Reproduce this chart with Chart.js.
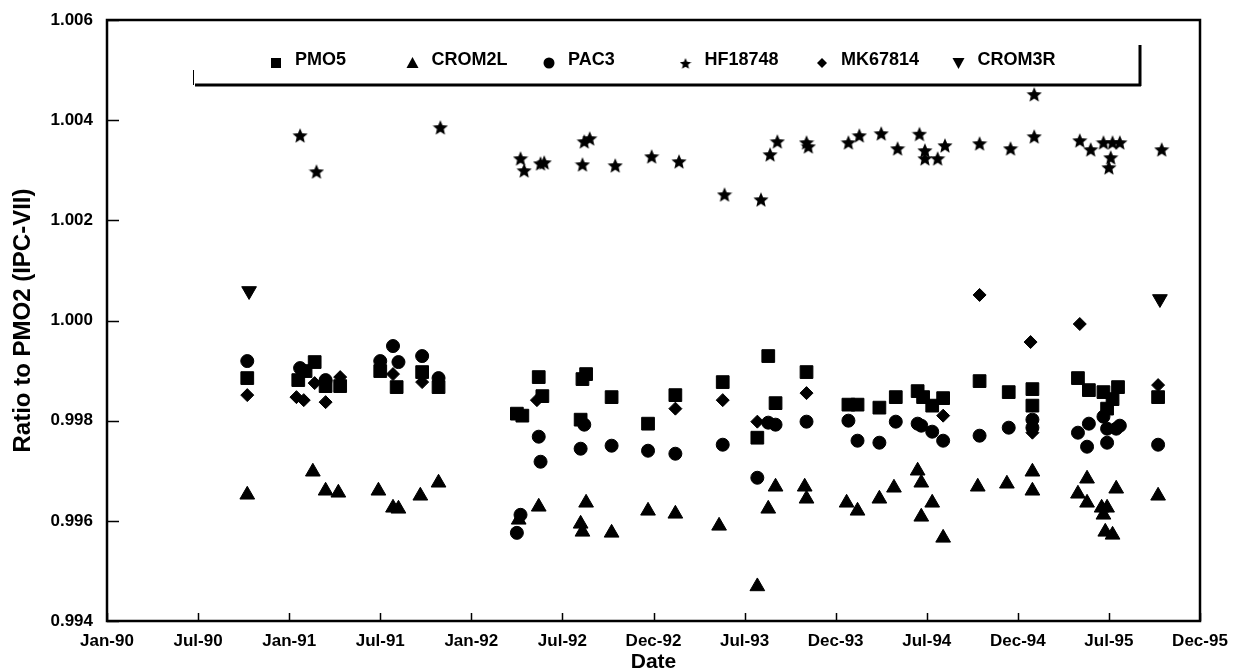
<!DOCTYPE html>
<html>
<head>
<meta charset="utf-8">
<title>Ratio to PMO2 (IPC-VII)</title>
<script src="https://cdn.jsdelivr.net/npm/chart.js@4.4.1/dist/chart.umd.min.js"></script>
<style>
  html, body { margin: 0; padding: 0; background: #fff; }
  #wrap { width: 1234px; height: 671px; }
</style>
</head>
<body>
<div id="wrap"><canvas id="chart" width="1234" height="671"></canvas></div>
<script>
// x values are decimal years, y values the ratio to PMO2
const tickLabels = ['Jan-90', 'Jul-90', 'Jan-91', 'Jul-91', 'Jan-92', 'Jul-92', 'Dec-92',
    'Jul-93', 'Dec-93', 'Jul-94', 'Dec-94', 'Jul-95', 'Dec-95'];

const pmo5 = [
    [1990.77, 0.99885], [1991.05, 0.99881], [1991.09, 0.99899], [1991.14, 0.99917], [1991.20, 0.99869],
    [1991.28, 0.99869], [1991.50, 0.99899], [1991.59, 0.99867], [1991.73, 0.99897], [1991.82, 0.99867],
    [1992.25, 0.99814], [1992.28, 0.99810], [1992.37, 0.99887], [1992.39, 0.99849], [1992.60, 0.99802],
    [1992.61, 0.99883], [1992.63, 0.99893], [1992.77, 0.99847], [1992.97, 0.99794], [1993.12, 0.99851],
    [1993.38, 0.99877], [1993.57, 0.99766], [1993.63, 0.99929], [1993.67, 0.99835], [1993.84, 0.99897],
    [1994.07, 0.99832], [1994.12, 0.99832], [1994.24, 0.99826], [1994.33, 0.99847], [1994.45, 0.99859],
    [1994.48, 0.99847], [1994.53, 0.99830], [1994.59, 0.99845], [1994.79, 0.99879], [1994.95, 0.99857],
    [1995.08, 0.99863], [1995.08, 0.99830], [1995.33, 0.99885], [1995.39, 0.99861], [1995.47, 0.99857],
    [1995.55, 0.99867], [1995.52, 0.99843], [1995.49, 0.99824], [1995.77, 0.99847]
];

const crom2l = [
    [1990.77, 0.99652], [1991.13, 0.99698], [1991.20, 0.99660], [1991.27, 0.99656], [1991.49, 0.99660],
    [1991.57, 0.99626], [1991.60, 0.99624], [1991.72, 0.99650], [1991.82, 0.99676], [1992.26, 0.99602],
    [1992.37, 0.99628], [1992.63, 0.99636], [1992.60, 0.99594], [1992.61, 0.99578], [1992.77, 0.99576],
    [1992.97, 0.99620], [1993.12, 0.99614], [1993.36, 0.99590], [1993.57, 0.99469], [1993.63, 0.99624],
    [1993.67, 0.99668], [1993.83, 0.99668], [1993.84, 0.99644], [1994.06, 0.99636], [1994.12, 0.99620],
    [1994.24, 0.99644], [1994.32, 0.99666], [1994.45, 0.99700], [1994.47, 0.99676], [1994.53, 0.99636],
    [1994.47, 0.99608], [1994.59, 0.99566], [1994.78, 0.99668], [1994.94, 0.99674], [1995.08, 0.99698],
    [1995.08, 0.99660], [1995.33, 0.99654], [1995.38, 0.99684], [1995.38, 0.99636], [1995.46, 0.99626],
    [1995.49, 0.99626], [1995.47, 0.99612], [1995.48, 0.99578], [1995.52, 0.99572], [1995.54, 0.99664],
    [1995.77, 0.99650]
];

const pac3 = [
    [1990.77, 0.99919], [1991.06, 0.99905], [1991.20, 0.99881], [1991.50, 0.99919], [1991.57, 0.99949],
    [1991.60, 0.99917], [1991.73, 0.99929], [1991.82, 0.99885], [1992.27, 0.99612], [1992.25, 0.99576],
    [1992.37, 0.99768], [1992.38, 0.99718], [1992.62, 0.99792], [1992.60, 0.99744], [1992.77, 0.99750],
    [1992.97, 0.99740], [1993.12, 0.99734], [1993.38, 0.99752], [1993.63, 0.99796], [1993.67, 0.99792],
    [1993.57, 0.99686], [1993.84, 0.99798], [1994.07, 0.99800], [1994.12, 0.99760], [1994.24, 0.99756],
    [1994.33, 0.99798], [1994.45, 0.99794], [1994.47, 0.99790], [1994.53, 0.99778], [1994.59, 0.99760],
    [1994.79, 0.99770], [1994.95, 0.99786], [1995.08, 0.99802], [1995.08, 0.99786], [1995.33, 0.99776],
    [1995.39, 0.99794], [1995.38, 0.99748], [1995.47, 0.99808], [1995.49, 0.99784], [1995.49, 0.99756],
    [1995.54, 0.99784], [1995.56, 0.99790], [1995.77, 0.99752]
];

const hf18748 = [
    [1991.06, 1.00370], [1991.15, 1.00298], [1991.83, 1.00386], [1992.27, 1.00324], [1992.29, 1.00300],
    [1992.38, 1.00314], [1992.40, 1.00316], [1992.62, 1.00358], [1992.65, 1.00364], [1992.61, 1.00312],
    [1992.79, 1.00310], [1992.99, 1.00328], [1993.14, 1.00318], [1993.39, 1.00252], [1993.59, 1.00242],
    [1993.64, 1.00332], [1993.68, 1.00358], [1993.84, 1.00356], [1993.85, 1.00348], [1994.07, 1.00356],
    [1994.13, 1.00370], [1994.25, 1.00374], [1994.34, 1.00344], [1994.46, 1.00373], [1994.49, 1.00340],
    [1994.49, 1.00324], [1994.56, 1.00324], [1994.60, 1.00350], [1994.79, 1.00354], [1994.96, 1.00344],
    [1995.09, 1.00452], [1995.09, 1.00368], [1995.34, 1.00360], [1995.40, 1.00342], [1995.47, 1.00356],
    [1995.52, 1.00356], [1995.56, 1.00356], [1995.51, 1.00326], [1995.50, 1.00306], [1995.79, 1.00342]
];

const mk67814 = [
    [1990.77, 0.99851], [1991.04, 0.99847], [1991.08, 0.99841], [1991.14, 0.99875], [1991.20, 0.99837],
    [1991.28, 0.99887], [1991.57, 0.99893], [1991.73, 0.99877], [1992.36, 0.99841], [1993.12, 0.99824],
    [1993.38, 0.99841], [1993.57, 0.99798], [1993.84, 0.99855], [1994.59, 0.99810], [1994.79, 1.00051],
    [1995.07, 0.99957], [1995.08, 0.99776], [1995.34, 0.99993], [1995.77, 0.99871]
];

const crom3r = [
    [1990.78, 1.00059], [1995.78, 1.00043]
];

const FONT = "'Liberation Sans', Arial, sans-serif";

function makeStar(size) {
    const c = document.createElement('canvas');
    c.width = size;
    c.height = size;
    const g = c.getContext('2d');
    const R = size / 2, r = R * 0.45;
    g.beginPath();
    for (let i = 0; i < 10; i++) {
        const rad = i % 2 === 0 ? R : r;
        const a = -Math.PI / 2 + i * Math.PI / 5;
        g.lineTo(R + rad * Math.cos(a), R + 1 + rad * Math.sin(a));
    }
    g.closePath();
    g.fillStyle = '#000';
    g.fill();
    return c;
}

const bigStar = makeStar(16);
const smallStar = makeStar(12);

function toPoints(list) {
    return list.map(p => ({ x: p[0], y: p[1] }));
}

function series(label, list, style, radius, rotation) {
    return {
        label: label,
        data: toPoints(list),
        showLine: false,
        pointStyle: style,
        pointRadius: radius,
        pointRotation: rotation || 0,
        backgroundColor: '#000',
        borderColor: '#000',
        borderWidth: 1
    };
}

// inward tick marks, plot frame and the boxed legend across the top
const framePlugin = {
    id: 'frame',
    afterDatasetsDraw(chart) {
        const ctx = chart.ctx;
        const a = chart.chartArea;
        const xs = chart.scales.x, ys = chart.scales.y;
        ctx.save();
        ctx.strokeStyle = '#000';
        ctx.lineWidth = 1.5;
        ctx.beginPath();
        ys.ticks.forEach(t => {
            const py = Math.round(ys.getPixelForValue(t.value)) + 0.5;
            ctx.moveTo(a.left, py);
            ctx.lineTo(a.left + 12, py);
        });
        xs.ticks.forEach(t => {
            const px = Math.round(xs.getPixelForValue(t.value)) + 0.5;
            ctx.moveTo(px, a.bottom);
            ctx.lineTo(px, a.bottom - 8);
        });
        ctx.stroke();

        ctx.lineWidth = 2.5;
        ctx.strokeRect(a.left, a.top, a.right - a.left, a.bottom - a.top);

        // legend box
        ctx.fillStyle = '#fff';
        ctx.fillRect(196, a.top + 2, 944, 84 - a.top - 2);
        ctx.lineWidth = 3;
        ctx.beginPath();
        ctx.moveTo(195, 85);
        ctx.lineTo(1141, 85);
        ctx.moveTo(1140, 45);
        ctx.lineTo(1140, 86);
        ctx.stroke();
        ctx.lineWidth = 1;
        ctx.beginPath();
        ctx.moveTo(193.5, 70);
        ctx.lineTo(193.5, 85);
        ctx.stroke();

        ctx.fillStyle = '#000';
        ctx.font = 'bold 18px ' + FONT;
        ctx.textBaseline = 'middle';
        ctx.textAlign = 'left';
        chart.data.datasets.forEach((ds, i) => {
            const mx = 276 + i * 136.5, my = 63;
            drawMarker(ctx, ds.pointStyle, ds.pointRotation, mx, my);
            ctx.fillText(ds.label, mx + 19, 60);
        });
        ctx.restore();
    }
};

function drawMarker(ctx, style, rotation, x, y) {
    ctx.beginPath();
    if (style === 'rect') {
        ctx.rect(x - 5, y - 5, 10, 10);
    } else if (style === 'circle') {
        ctx.arc(x, y, 5.5, 0, Math.PI * 2);
    } else if (style === 'rectRot') {
        ctx.moveTo(x, y - 5);
        ctx.lineTo(x + 5, y);
        ctx.lineTo(x, y + 5);
        ctx.lineTo(x - 5, y);
    } else if (style === 'triangle') {
        const d = rotation ? -1 : 1;
        ctx.moveTo(x, y - 6 * d);
        ctx.lineTo(x + 6, y + 5 * d);
        ctx.lineTo(x - 6, y + 5 * d);
    } else {
        ctx.drawImage(smallStar, x - 6, y - 6);
        return;
    }
    ctx.closePath();
    ctx.fill();
}

const ctx = document.getElementById('chart').getContext('2d');

new Chart(ctx, {
    type: 'scatter',
    data: {
        datasets: [
            series('PMO5', pmo5, 'rect', 9),
            series('CROM2L', crom2l, 'triangle', 8.5),
            series('PAC3', pac3, 'circle', 6.5),
            series('HF18748', hf18748, bigStar, 8),
            series('MK67814', mk67814, 'rectRot', 6.5),
            series('CROM3R', crom3r, 'triangle', 8.5, 180)
        ]
    },
    options: {
        responsive: false,
        animation: false,
        devicePixelRatio: 1,
        layout: {
            padding: { top: 20, right: 34, left: 0, bottom: 0 }
        },
        plugins: {
            legend: { display: false },
            tooltip: { enabled: false }
        },
        scales: {
            x: {
                type: 'linear',
                min: 1990,
                max: 1996,
                grid: { display: false, drawTicks: false },
                border: { display: false },
                afterFit: s => {
                    s.height = 50;
                    s.paddingLeft = 0;
                    s.paddingRight = 0;
                },
                ticks: {
                    stepSize: 0.5,
                    autoSkip: false,
                    maxRotation: 0,
                    padding: 10,
                    color: '#000',
                    font: { family: FONT, size: 17, weight: 'bold' },
                    callback: (v, i) => tickLabels[i]
                },
                title: {
                    display: true,
                    text: 'Date',
                    color: '#000',
                    padding: { top: 0, bottom: -4 },
                    font: { family: FONT, size: 21, weight: 'bold' }
                }
            },
            y: {
                min: 0.994,
                max: 1.006,
                grid: { display: false, drawTicks: false },
                border: { display: false },
                afterFit: s => {
                    s.width = 107;
                    s.paddingTop = 0;
                    s.paddingBottom = 0;
                },
                ticks: {
                    stepSize: 0.002,
                    padding: 14,
                    color: '#000',
                    font: { family: FONT, size: 17, weight: 'bold' },
                    callback: v => v.toFixed(3)
                },
                title: {
                    display: true,
                    text: 'Ratio to PMO2 (IPC-VII)',
                    color: '#000',
                    padding: { top: 9, bottom: 0 },
                    font: { family: FONT, size: 24, weight: 'bold' }
                }
            }
        }
    },
    plugins: [framePlugin]
});
</script>
</body>
</html>
